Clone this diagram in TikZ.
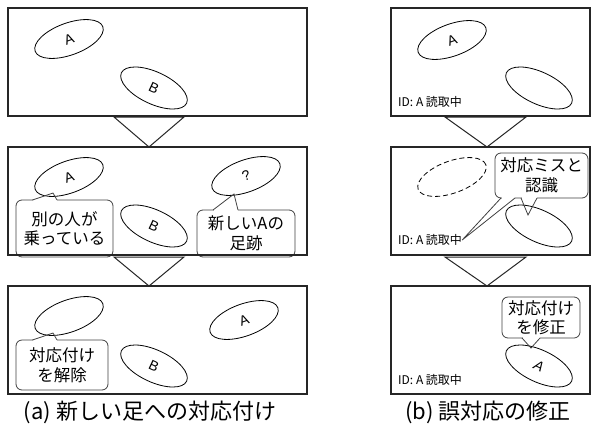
\documentclass[tikz,border=0pt]{standalone}
\usepackage{fontspec}
\setmainfont{Liberation Sans}
\newfontfamily\jp{Noto Sans CJK JP}
\usetikzlibrary{shapes.geometric}
\begin{document}
\begin{tikzpicture}[x=1pt,y=-1pt,
  panelbox/.style={draw=black!85, line width=1.1pt},
  fp/.style={ellipse, draw, line width=0.8pt, minimum width=72pt, minimum height=32pt, inner sep=0pt, font=\fontsize{14}{14}\selectfont},
  fpd/.style={fp, dash pattern=on 5pt off 3pt},
  tri/.style={draw=black!85, line width=1pt, fill=white},
  cbox/.style={draw=black!75, line width=0.8pt, rounded corners=6pt, fill=white, align=center, inner sep=0pt, font=\jp\fontsize{16.5}{19.5}\selectfont},
  eraseline/.style={draw=white, line width=1.6pt},
  ptrline/.style={draw=black!75, line width=0.8pt, line join=miter},
  idtext/.style={anchor=west, font=\jp\fontsize{12}{12}\selectfont, inner sep=0pt},
  captext/.style={font=\jp\fontsize{22}{22}\selectfont, inner sep=0pt}
]
\useasboundingbox (0,0) rectangle (591,426);

% arrows (triangles)
\draw[tri] (114,117) -- (184,117) -- (149,147) -- cycle;
\draw[tri] (114,257) -- (184,257) -- (149,286) -- cycle;
\draw[tri] (445,117) -- (526,117) -- (487,147) -- cycle;
\draw[tri] (445,257) -- (526,257) -- (487,286) -- cycle;

% ---- column (a) ----
\node[fp, rotate=20]  (a1A) at (69,39)  {A};
\node[fp, rotate=-25] (a1B) at (154,88) {B};

\node[fp, rotate=20]  (a2A) at (69,177)  {A};
\node[fp, rotate=-25] (a2B) at (154,226) {B};
\node[fp, rotate=20]  (a2Q) at (246,176) {?};

\node[fp, rotate=20]  (a3E) at (69,316)  {};
\node[fp, rotate=-25] (a3B) at (154,366) {B};
\node[fp, rotate=20]  (a3A) at (244,320) {A};

% callouts (a)
\node[cbox, minimum width=97pt, minimum height=57pt] (c1) at (64.5,228.5) {別の人が\\乗っている};
\draw[eraseline] (33,200) -- (56.5,200);
\draw[ptrline] (32.5,200) -- (53,193) -- (57,200);

\node[cbox, minimum width=98pt, minimum height=47pt] (c2) at (246,233.5) {新しいAの\\足跡};
\draw[eraseline] (213.5,210) -- (237.5,210);
\draw[ptrline] (213,210) -- (234,194) -- (238,210);

\node[cbox, minimum width=92pt, minimum height=50pt] (c3) at (62,365) {対応付け\\を解除};
\draw[eraseline] (33,340) -- (56.5,340);
\draw[ptrline] (32.5,340) -- (53,333) -- (57,340);

% ---- column (b) ----
\node[fp, rotate=20]  (b1A) at (452,40) {A};
\node[fp, rotate=-25] (b1E) at (539,88) {};
\node[idtext] (id1) at (398,102) {ID: A 読取中};

\node[fpd, rotate=20]  (b2D) at (452,177) {};
\node[fp, rotate=-25] (b2E) at (539,226) {};
\node[idtext] (id2) at (398,240) {ID: A 読取中};

\node[cbox, minimum width=93pt, minimum height=45pt] (c4) at (541.5,175.5) {対応ミスと\\認識};
\draw[eraseline] (501.5,198) -- (514.5,198);
\draw[eraseline] (521.5,198) -- (536.5,198);
\draw[ptrline] (501,198) -- (id2.east) -- (515,198);
\draw[ptrline] (521,198) -- (528,215) -- (537,198);

\node[fp, rotate=-25] (b3A) at (539,366) {\itshape A};
\node[idtext] (id3) at (398,380) {ID: A 読取中};

\node[cbox, minimum width=78pt, minimum height=41pt] (c5) at (541,317.5) {対応付け\\を修正};
\draw[eraseline] (522.5,338) -- (539.5,338);
\draw[ptrline] (522,338) -- (531,348) -- (540,338);

% panels
\draw[panelbox] (8,8) rectangle (307,116);
\draw[panelbox] (8,147) rectangle (307,255);
\draw[panelbox] (8,286) rectangle (307,394);
\draw[panelbox] (391,8) rectangle (590,116);
\draw[panelbox] (391,147) rectangle (590,255);
\draw[panelbox] (391,286) rectangle (590,394);

% captions
\node[captext] (capa) at (150,412) {(a) 新しい足への対応付け};
\node[captext] (capb) at (488,412) {(b) 誤対応の修正};
\end{tikzpicture}
\end{document}
